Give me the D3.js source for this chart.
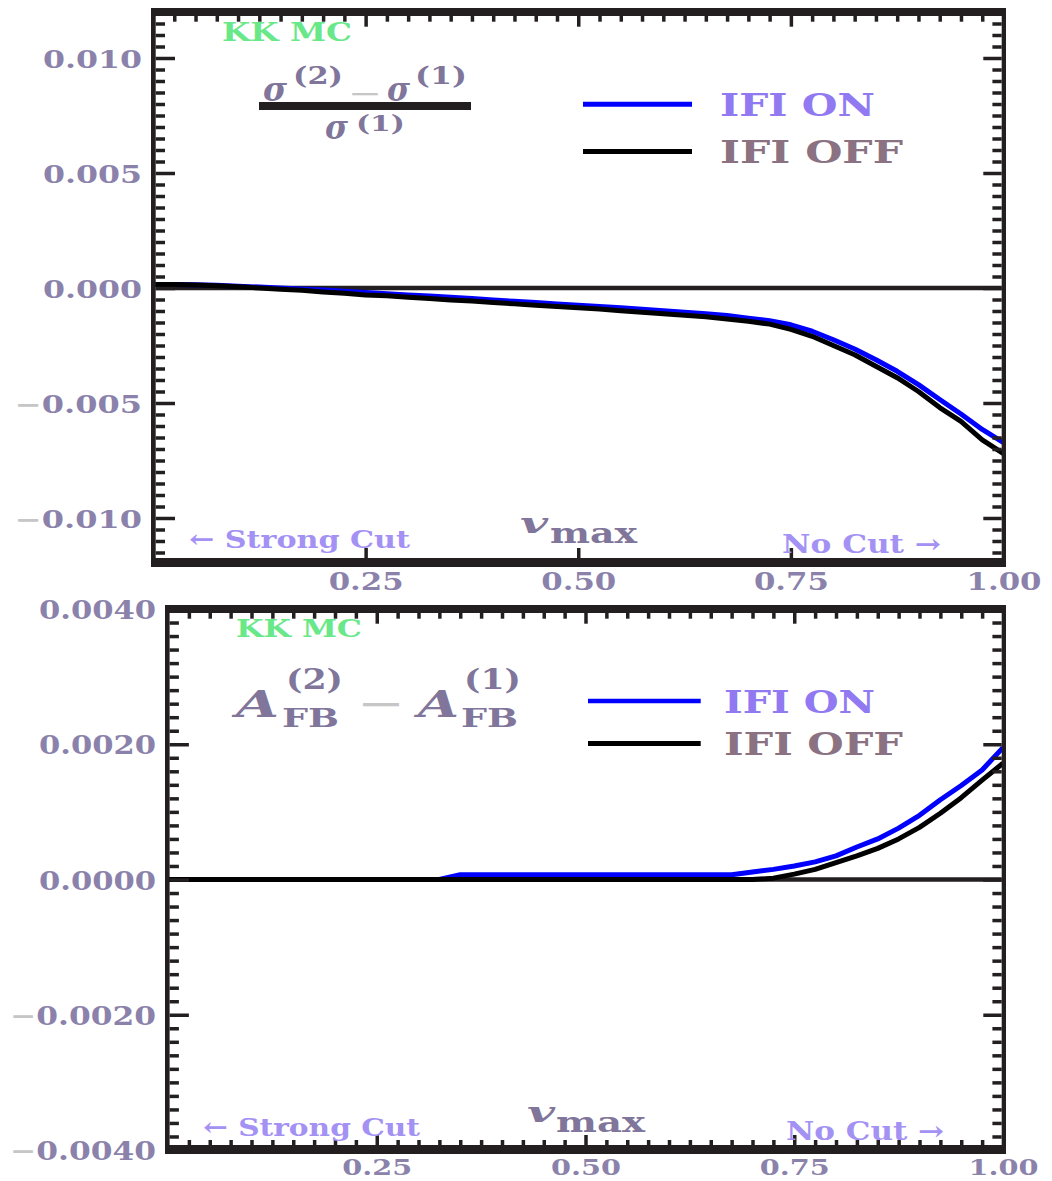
<!DOCTYPE html>
<html><head><meta charset="utf-8">
<script src="https://cdn.jsdelivr.net/npm/d3@7"></script>
<style>body{margin:0;background:#fff}svg{display:block}</style>
</head><body>
<svg id="c" width="1052" height="1181"></svg>
<script>
// ---------------- data ----------------
const vmax = [0.000,0.025,0.050,0.075,0.100,0.125,0.150,0.175,0.200,0.225,
              0.250,0.275,0.300,0.325,0.350,0.375,0.400,0.425,0.450,0.475,
              0.500,0.525,0.550,0.575,0.600,0.625,0.650,0.675,0.700,0.725,
              0.750,0.775,0.800,0.825,0.850,0.875,0.900,0.925,0.950,0.975,1.000];
// (sigma2 - sigma1)/sigma1
const xsecIfiOn  = [0.00015,0.00015,0.00014,0.00012,0.00008,0.00004,0.00000,-0.00004,-0.00009,-0.00014,
                    -0.00020,-0.00025,-0.00030,-0.00035,-0.00040,-0.00046,-0.00052,-0.00058,-0.00063,-0.00069,
                    -0.00075,-0.00080,-0.00086,-0.00092,-0.00099,-0.00105,-0.00112,-0.00120,-0.00131,-0.00142,
                    -0.00160,-0.00188,-0.00225,-0.00265,-0.00312,-0.00362,-0.00420,-0.00485,-0.00548,-0.00615,-0.00672];
const xsecIfiOff = [0.00015,0.00015,0.00013,0.00010,0.00005,0.00000,-0.00005,-0.00010,-0.00017,-0.00023,
                    -0.00030,-0.00034,-0.00040,-0.00046,-0.00052,-0.00057,-0.00063,-0.00069,-0.00075,-0.00080,
                    -0.00086,-0.00091,-0.00099,-0.00105,-0.00112,-0.00118,-0.00125,-0.00135,-0.00145,-0.00157,
                    -0.00180,-0.00210,-0.00250,-0.00290,-0.00340,-0.00390,-0.00450,-0.00520,-0.00580,-0.00660,-0.00720];
// A_FB(2) - A_FB(1)
const afbIfiOn  = [0,0,0,0,0,0,0,0,0,0,
                   0,0,0,0,0.00007,0.00007,0.00007,0.00007,0.00007,0.00007,
                   0.00007,0.00007,0.00007,0.00007,0.00007,0.00007,0.00007,0.00007,0.00011,0.00015,
                   0.00020,0.00026,0.00035,0.00048,0.00060,0.00076,0.00095,0.00118,0.00139,0.00162,0.00195];
const afbIfiOff = [0,0,0,0,0,0,0,0,0,0,
                   0,0,0,0,0,0,0,0,0,0,
                   0,0,0,0,0,0,0,0,0,0.00002,
                   0.00008,0.00015,0.00025,0.00035,0.00046,0.00060,0.00077,0.00098,0.00121,0.00147,0.00172];
const seriesNames = ["IFI ON","IFI OFF"];
const xTickValues = [0.25,0.50,0.75,1.00];
const xTickLabels = ["0.25","0.50","0.75","1.00"];
const xsecTickValues = [-0.010,-0.005,0.000,0.005,0.010];
const xsecTickLabels = ["\u22120.010","\u22120.005","0.000","0.005","0.010"];
const afbTickValues = [-0.004,-0.002,0.000,0.002,0.004];
const afbTickLabels = ["\u22120.0040","\u22120.0020","0.0000","0.0020","0.0040"];

// ---------------- style ----------------
const FONT = '"DejaVu Serif","Liberation Serif",serif';
const FRAME = '#231f20';
const LABEL = '#8b82ab';
const GREEN = '#68e888';
const CUT = '#a391f4';
const ON_TXT = '#9179f2';
const OFF_TXT = '#8a7282';
const MATH = '#80759a';
const GRAY = '#c6c6c6';
const BLUE = '#0000ff', BLACK = '#000000';

const svg = d3.select('#c');

function txt(g, s, x, y, size, width, o = {}) {
  return g.append('text').attr('x', x).attr('y', y)
    .attr('font-size', size).attr('font-family', FONT)
    .attr('font-weight', o.weight || 'bold')
    .attr('fill', o.fill || LABEL)
    .attr('font-style', o.italic ? 'italic' : null)
    .attr('text-anchor', o.anchor || 'start')
    .attr('textLength', width).attr('lengthAdjust', 'spacingAndGlyphs')
    .text(s);
}

function tickAxis(g, axisFn, scale, values, size, tx, ty) {
  g.append('g').attr('transform', `translate(${tx},${ty})`)
    .call(axisFn(scale).tickValues(values).tickSize(size).tickFormat(''))
    .call(a => a.select('.domain').remove())
    .call(a => a.selectAll('.tick line').attr('stroke', FRAME).attr('stroke-width', 3.5));
}

function drawPanel(p) {
  const g = svg.append('g');
  const x = d3.scaleLinear().domain([0, 1]).range(p.xRange);
  const y = d3.scaleLinear().domain(p.yDomain).range(p.yRange);
  const F = p.frame;

  // zero line
  g.append('line').attr('x1', F.left[1]).attr('x2', F.right[0])
    .attr('y1', y(0)).attr('y2', y(0)).attr('stroke', FRAME).attr('stroke-width', 4.5);

  // series
  const line = d3.line().x((d, i) => x(vmax[i])).y(d => y(d));
  p.series.forEach(s => {
    g.append('path').datum(s.values).attr('d', line)
      .attr('fill', 'none').attr('stroke', s.color).attr('stroke-width', 5)
      .attr('stroke-linejoin', 'round');
  });

  // frame
  g.append('rect').attr('x', F.left[0]).attr('y', F.top[0]).attr('width', F.left[1] - F.left[0]).attr('height', F.bottom[1] - F.top[0]).attr('fill', FRAME);
  g.append('rect').attr('x', F.right[0]).attr('y', F.top[0]).attr('width', F.right[1] - F.right[0]).attr('height', F.bottom[1] - F.top[0]).attr('fill', FRAME);
  g.append('rect').attr('x', F.left[0]).attr('y', F.top[0]).attr('width', F.right[1] - F.left[0]).attr('height', F.top[1] - F.top[0]).attr('fill', FRAME);
  g.append('rect').attr('x', F.left[0]).attr('y', F.bottom[0]).attr('width', F.right[1] - F.left[0]).attr('height', F.bottom[1] - F.bottom[0]).attr('fill', FRAME);

  // ticks
  const yMinor = p.yMinor.filter(v => !p.yMajor.some(m => Math.abs(m - v) < 1e-9));
  tickAxis(g, d3.axisRight, y, yMinor, 9.3, F.left[1], 0);
  tickAxis(g, d3.axisRight, y, p.yMajor, 19.3, F.left[1], 0);
  tickAxis(g, d3.axisLeft, y, yMinor, 9.3, F.right[0], 0);
  tickAxis(g, d3.axisLeft, y, p.yMajor, 18.4, F.right[0], 0);
  const xMajor = [0.25, 0.5, 0.75];
  const xMinor = d3.range(1, 40).map(k => k * 0.025).filter(v => !xMajor.some(m => Math.abs(m - v) < 1e-9));
  tickAxis(g, d3.axisBottom, x, xMinor, 5.7, 0, F.top[1]);
  tickAxis(g, d3.axisBottom, x, xMajor, 10.7, 0, F.top[1]);
  if (p.bottomMinor) tickAxis(g, d3.axisTop, x, xMinor, 5, 0, F.bottom[0]);
  tickAxis(g, d3.axisTop, x, xMajor, 10, 0, F.bottom[0]);

  // y labels
  const ya = g.append('g').attr('transform', `translate(${p.yLab.right},0)`)
    .call(d3.axisLeft(y).tickValues(p.yTickValues).tickFormat((d, i) => p.yTickLabels[i]).tickSize(0).tickPadding(0));
  ya.select('.domain').remove();
  ya.selectAll('.tick text').each(function (d, i) {
    const t = d3.select(this); const s = p.yTickLabels[i];
    const neg = s.startsWith('\u2212');
    t.text(null).attr('x', 0).attr('dy', null).attr('y', 9.5)
      .attr('font-size', p.yLab.size).attr('font-family', FONT).attr('font-weight', 'bold').attr('fill', LABEL)
      .attr('text-anchor', 'end')
      .attr('textLength', neg ? p.yLab.w + p.yLab.wMinus : p.yLab.w).attr('lengthAdjust', 'spacingAndGlyphs');
    if (neg) { t.append('tspan').attr('fill', GRAY).text('\u2212'); t.append('tspan').text(s.slice(1)); }
    else t.text(s);
  });

  // x labels
  const xa = g.append('g').attr('transform', `translate(0,${p.xLab.y})`)
    .call(d3.axisBottom(x).tickValues(xTickValues).tickFormat((d, i) => xTickLabels[i]).tickSize(0).tickPadding(0));
  xa.select('.domain').remove();
  xa.selectAll('.tick text').attr('y', 0).attr('dy', null)
    .attr('font-size', p.xLab.size).attr('font-family', FONT).attr('font-weight', 'bold').attr('fill', LABEL)
    .attr('text-anchor', 'middle').attr('textLength', p.xLab.w).attr('lengthAdjust', 'spacingAndGlyphs');

  return g;
}

// ---------------- top panel ----------------
const gTop = drawPanel({
  xRange: [153, 1003.5], yDomain: [-0.012, 0.012], yRange: [564, 12],
  frame: { left: [151, 155.7], right: [1001.7, 1006], top: [8, 16], bottom: [558, 567] },
  series: [{ values: xsecIfiOn, color: BLUE }, { values: xsecIfiOff, color: BLACK }],
  yMinor: d3.range(-24, 25).map(k => k * 0.0005), yMajor: [-0.010, -0.005, 0, 0.005, 0.010],
  yTickValues: xsecTickValues, yTickLabels: xsecTickLabels,
  yLab: { right: 142, size: 25, w: 99, wMinus: 28 },
  xLab: { y: 590, size: 25, w: 75 },
  bottomMinor: false
});
txt(gTop, 'KK MC', 222, 41, 26, 130, { fill: GREEN });
txt(gTop, '\u03c3', 263, 100.5, 34, 24, { fill: MATH, italic: true });
txt(gTop, '(2)', 293, 84, 25, 50, { fill: MATH });
txt(gTop, '\u2212', 348, 101, 22, 34, { fill: GRAY });
txt(gTop, '\u03c3', 387, 100.5, 34, 23, { fill: MATH, italic: true });
txt(gTop, '(1)', 415, 84, 25, 52, { fill: MATH });
gTop.append('rect').attr('x', 259).attr('y', 102).attr('width', 212).attr('height', 8).attr('fill', FRAME);
txt(gTop, '\u03c3', 325, 138.5, 34, 23, { fill: MATH, italic: true });
txt(gTop, '(1)', 356, 131, 23, 49, { fill: MATH });
// legend
gTop.append('line').attr('x1', 583).attr('x2', 692).attr('y1', 104.3).attr('y2', 104.3).attr('stroke', BLUE).attr('stroke-width', 5);
gTop.append('line').attr('x1', 583).attr('x2', 692).attr('y1', 151.5).attr('y2', 151.5).attr('stroke', BLACK).attr('stroke-width', 5);
txt(gTop, seriesNames[0], 720, 115.7, 31.5, 155, { fill: ON_TXT });
txt(gTop, seriesNames[1], 720, 163, 31.5, 183, { fill: OFF_TXT });
// bottom annotations
txt(gTop, '\u2190 Strong Cut', 189, 548, 25, 221, { fill: CUT });
txt(gTop, 'v', 520, 533, 27, 28, { fill: MATH, italic: true });
txt(gTop, 'max', 550, 543, 27, 87, { fill: MATH });
txt(gTop, 'No Cut \u2192', 782, 553, 26, 159, { fill: CUT });

// ---------------- bottom panel ----------------
const gBot = drawPanel({
  xRange: [168, 1003], yDomain: [-0.004, 0.004], yRange: [1150, 609],
  frame: { left: [165, 169.6], right: [1001.7, 1006], top: [605, 613], bottom: [1145, 1154] },
  series: [{ values: afbIfiOn, color: BLUE }, { values: afbIfiOff, color: BLACK }],
  yMinor: d3.range(-20, 21).map(k => k * 0.0002), yMajor: [-0.004, -0.002, 0, 0.002, 0.004],
  yTickValues: afbTickValues, yTickLabels: afbTickLabels,
  yLab: { right: 156, size: 26, w: 117, wMinus: 29 },
  xLab: { y: 1175, size: 22, w: 70 },
  bottomMinor: true
});
txt(gBot, 'KK MC', 236, 637, 25, 126, { fill: GREEN });
txt(gBot, 'A', 236, 717, 38, 43, { fill: MATH, italic: true });
txt(gBot, '(2)', 286, 689, 27, 57, { fill: MATH });
txt(gBot, 'FB', 282, 727, 26, 57, { fill: MATH });
txt(gBot, '\u2212', 357, 714, 30, 48, { fill: GRAY });
txt(gBot, 'A', 418, 717, 38, 41, { fill: MATH, italic: true });
txt(gBot, '(1)', 464, 689, 27, 57, { fill: MATH });
txt(gBot, 'FB', 461, 727, 26, 57, { fill: MATH });
gBot.append('line').attr('x1', 588).attr('x2', 700.7).attr('y1', 701).attr('y2', 701).attr('stroke', BLUE).attr('stroke-width', 4.5);
gBot.append('line').attr('x1', 588).attr('x2', 700.7).attr('y1', 743.5).attr('y2', 743.5).attr('stroke', BLACK).attr('stroke-width', 5);
txt(gBot, seriesNames[0], 724, 712.7, 31.5, 151, { fill: ON_TXT });
txt(gBot, seriesNames[1], 724, 755, 31.5, 179, { fill: OFF_TXT });
txt(gBot, '\u2190 Strong Cut', 203, 1136, 25, 217, { fill: CUT });
txt(gBot, 'v', 527, 1122, 27, 28, { fill: MATH, italic: true });
txt(gBot, 'max', 556, 1132, 27, 89, { fill: MATH });
txt(gBot, 'No Cut \u2192', 786, 1140, 26, 158, { fill: CUT });
</script>
</body></html>
